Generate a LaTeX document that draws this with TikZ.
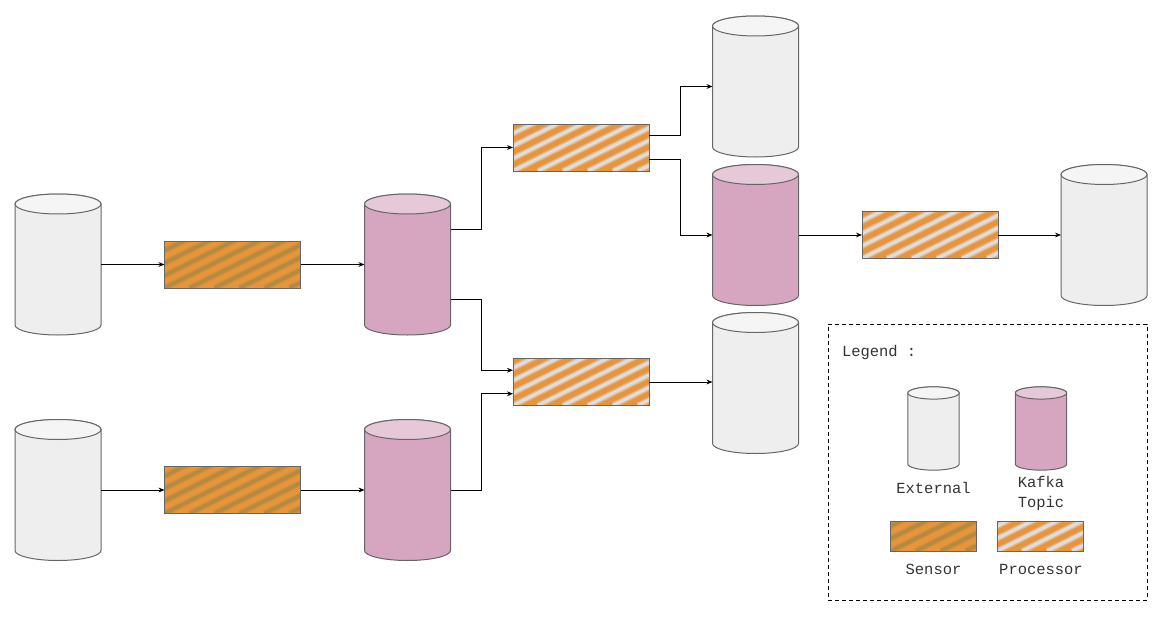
\documentclass[tikz,border=0pt]{standalone}
\usepackage{fontspec}
\setmonofont{Liberation Mono}
\usetikzlibrary{arrows.meta,calc}
\definecolor{extbody}{HTML}{EEEEEE}
\definecolor{exttop}{HTML}{F5F5F5}
\definecolor{topbody}{HTML}{D6A5BF}
\definecolor{toptop}{HTML}{E6C8D8}
\definecolor{strk}{HTML}{666666}
\definecolor{orng}{HTML}{E8943A}
\definecolor{senstripe}{HTML}{B48A40}
\definecolor{procstripe}{HTML}{DDDDDD}
\definecolor{txt}{HTML}{333333}
\newcommand\mycyl[5]{%
  \draw[draw=strk, line width=0.75pt, fill=#4]
    ($(#1.north west)+(0,-#3)$) -- ($(#1.south west)+(0,#3)$)
    arc[start angle=180,end angle=360,x radius=#2,y radius=#3]
    -- ($(#1.north east)+(0,-#3)$)
    arc[start angle=0,end angle=180,x radius=#2,y radius=#3] -- cycle;
  \draw[draw=strk, line width=0.75pt, fill=#5] ($(#1.north)+(0,-#3)$) ellipse[x radius=#2, y radius=#3];
}
\tikzset{
  box/.style={inner sep=0pt, outer sep=0pt},
  bigcyl/.style={box, minimum width=64.5pt, minimum height=105.75pt},
  smallcyl/.style={box, minimum width=38.5pt, minimum height=62.5pt},
  hatched/.style={box, draw=strk, line width=0.75pt, fill=orng,
    path picture={
      \foreach \k in {-7,...,7}{
        \draw[#1, line width=4.6pt, opacity=0.45]
          ($(path picture bounding box.south west)+(\k*18.75pt,0)$) -- ++(100pt,50pt);
        \draw[#1, line width=2.5pt]
          ($(path picture bounding box.south west)+(\k*18.75pt,0)$) -- ++(100pt,50pt);
      }
    }},
  sensor/.style={hatched=senstripe, minimum width=102pt, minimum height=35.25pt},
  proc/.style={hatched=procstripe, minimum width=102pt, minimum height=35.25pt},
  lsensor/.style={hatched=senstripe, minimum width=64pt, minimum height=22.5pt},
  lproc/.style={hatched=procstripe, minimum width=65pt, minimum height=22.5pt},
  arr/.style={draw=black, line width=0.75pt, -{Stealth[length=4.5pt,width=3.6pt]}},
  lbl/.style={box, text=txt, font=\ttfamily\fontsize{11.6}{15}\selectfont, align=center},
}
\begin{document}
\begin{tikzpicture}[x=0.75pt,y=0.75pt]
\useasboundingbox (0,0) rectangle (1163,-617);
% externals and topics
\node[bigcyl] (e1) at (58,-264.5) {};
\mycyl{e1}{32.25pt}{7.5pt}{extbody}{exttop}
\node[bigcyl] (e2) at (58,-490) {};
\mycyl{e2}{32.25pt}{7.5pt}{extbody}{exttop}
\node[bigcyl] (t1) at (407.5,-264.5) {};
\mycyl{t1}{32.25pt}{7.5pt}{topbody}{toptop}
\node[bigcyl] (t2) at (407.5,-490) {};
\mycyl{t2}{32.25pt}{7.5pt}{topbody}{toptop}
\node[bigcyl] (e3) at (755.5,-86.5) {};
\mycyl{e3}{32.25pt}{7.5pt}{extbody}{exttop}
\node[bigcyl] (t3) at (755.5,-235) {};
\mycyl{t3}{32.25pt}{7.5pt}{topbody}{toptop}
\node[bigcyl] (e4) at (755.5,-383) {};
\mycyl{e4}{32.25pt}{7.5pt}{extbody}{exttop}
\node[bigcyl] (e5) at (1104,-235) {};
\mycyl{e5}{32.25pt}{7.5pt}{extbody}{exttop}
% sensors and processors
\node[sensor] (s1) at (232.5,-264.5) {};
\node[sensor] (s2) at (232.5,-490) {};
\node[proc] (p1) at (581,-147.5) {};
\node[proc] (p2) at (581,-382) {};
\node[proc] (p3) at (930,-235) {};
% connectors
\draw[arr] (e1.east) -- (s1.west);
\draw[arr] (s1.east) -- (t1.west);
\draw[arr] (e2.east) -- (s2.west);
\draw[arr] (s2.east) -- (t2.west);
\draw[arr] ([yshift=26.4pt]t1.east) -- ++(23.6pt,0) |- (p1.west);
\draw[arr] ([yshift=-26.4pt]t1.east) -- ++(23.6pt,0) |- ([yshift=8.8pt]p2.west);
\draw[arr] (t2.east) -- ++(23.6pt,0) |- ([yshift=-8.8pt]p2.west);
\draw[arr] ([yshift=8.8pt]p1.east) -- ++(23.6pt,0) |- (e3.west);
\draw[arr] ([yshift=-8.8pt]p1.east) -- ++(23.6pt,0) |- (t3.west);
\draw[arr] (p2.east) -- (p2.east -| e4.west);
\draw[arr] (t3.east) -- (p3.west);
\draw[arr] (p3.east) -- (e5.west);
% legend
\node[box, draw=black, line width=0.75pt, dash pattern=on 3pt off 2.25pt,
  minimum width=239.25pt, minimum height=207pt] (legend) at (987.5,-462) {};
\node[lbl, anchor=west] (ltitle) at (842,-352) {Legend :};
\node[smallcyl] (lext) at (933.5,-428.5) {};
\mycyl{lext}{19.25pt}{4.6pt}{extbody}{exttop}
\node[smallcyl] (ltop) at (1041,-428.5) {};
\mycyl{ltop}{19.25pt}{4.6pt}{topbody}{toptop}
\node[lbl] (lextt) at (933.5,-488) {External};
\node[lbl] (ltopt) at (1041,-493) {Kafka\\Topic};
\node[lsensor] (lsen) at (933.5,-536) {};
\node[lproc] (lpro) at (1040.5,-536) {};
\node[lbl] (lsent) at (933.5,-569) {Sensor};
\node[lbl] (lprot) at (1041,-569) {Processor};
\end{tikzpicture}
\end{document}
